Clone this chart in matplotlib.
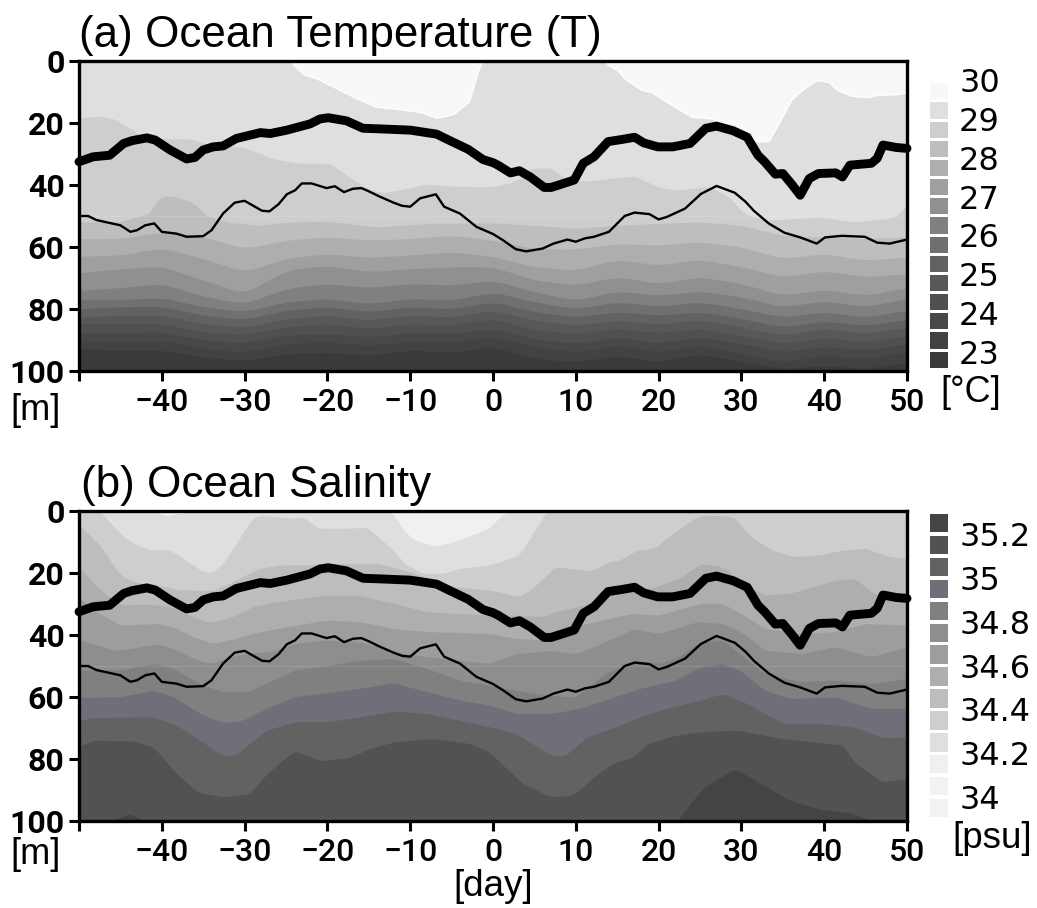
import matplotlib
matplotlib.use("Agg")
import matplotlib.pyplot as plt
import numpy as np

# ---------- shared lines ----------
thick_days = [-50,-48.3,-46.3,-44.6,-43.6,-41.8,-40.8,-39,-37,-36,-35,-33.8,-32.6,-31,-28.1,-26.9,-24.9,-22.1,-20.9,-19.9,-17.7,-15.7,-13.6,-10,-6.8,-5.2,-3,-1.2,0,0.6,2.1,3.2,4.5,6.2,7,8.3,9.8,10.9,12.2,13.9,15.6,17.1,18.2,19.9,21.7,23.8,25.7,27,29,30.7,32,32.8,34.1,35,36,37.1,38.2,39.3,41.4,42.2,43.1,45.7,46.4,47.1,48.7,50]
thick_depth = [32.5,30.9,30.4,26.6,25.7,24.8,25.5,28.7,31.6,31.1,28.7,27.7,27.4,25,23.1,23.4,22.3,20.3,18.7,18.3,19.3,21.7,21.9,22.3,23.6,25.7,28.5,31.8,32.8,33.6,36.1,35.4,37.4,40.8,40.8,39.7,38.4,33,30.9,26,25.3,24.6,26.4,27.7,27.7,26.6,21.7,21,22.5,24.6,30.4,32.5,36.5,36.3,39.5,43.3,37.9,36.3,36.1,37.4,33.6,33,31.4,27.1,27.9,28.2]
thin_days = [-50,-48.9,-47.9,-45,-43.8,-43,-42,-40.9,-40,-38.2,-37,-35,-34,-32.6,-31.2,-30,-27.9,-27,-25.9,-24.9,-23.9,-23.1,-21.9,-20.1,-19.1,-18,-16.9,-15.9,-15.1,-13.8,-12,-11,-10,-8.8,-6.9,-5.9,-4,-2,0,1.2,2.75,4,6,7.3,9,10,11.1,12.2,14,15.9,17.1,18.9,20,21,23.2,25.1,27,29.2,30.5,31.5,33.3,35.2,37.1,39.1,40.1,42.1,44.9,46.4,47.9,50]
thin_depth = [50,50,51.3,53,55.1,54.6,53,52.4,55.1,55.7,56.7,56.5,54.6,49.2,45.7,45.1,48.3,48.5,46.2,43,41.7,39.5,39.5,41,40.4,42.3,41.2,41,41.9,43.6,45.7,46.7,47,44.3,43,47,49.2,53.5,55.8,57.8,60.7,61.4,60.5,58.9,57.6,58.3,57.2,56.7,55.1,50,48.9,49.4,51.1,50.3,47.6,42.9,40.3,42.5,45.4,48.3,52.4,55.4,56.9,58.9,56.9,56.4,56.7,58.6,58.9,57.6]

# ---------- panel (a) temperature: depth of isotherm boundaries ----------
a_warm1_days = [-24.3,-24.1,-22.9,-21.3,-18.9,-16.5,-14.2,-12,-8.8,-6.8,-4.8,-2.9,-1.8,-1.3]
a_warm1_depth = [0,1.3,4.2,5.6,8.8,12,14.7,15.3,16.4,18.3,17.1,13.1,3,0]
a_warm2_days = [13.5,13.9,15,16.1,18,19.1,21.6,24,26.4,28.5,32,33.3,34.5,36,37.3,39.1,40.5,41.6,43.3,45.3,46.2,48.7,50]
a_warm2_depth = [0,1.3,2.9,6.1,9.4,10,14.2,18,18.5,20.7,26,25.7,20.1,12.6,9.4,6.1,6.7,9.4,11.2,11.7,11,10.7,10.2]

a_b1_days = [-50,-47.5,-45.9,-43.8,-42.2,-38.6,-36.2,-34.2,-30.2,-28.1,-26.9,-23.3,-19.7,-17.7,-15.3,-13.2,-10,-8,-4.8,-0.4,1.9,3.2,4.5,7,8.8,11.3,15,17.1,19.9,22.1,26,28.5,30.3,32.8,37.1,39.3,43.6,47.9,49.2,50]
a_b1_depth = [18.3,17.8,18.5,21.7,25,25,25.3,27.1,27.7,29.8,31.4,33,33,36.8,41.1,42.5,40.9,39.7,40.4,40.6,39.5,37.9,34.7,34.4,37.9,38.8,37.6,37.1,40.6,41.7,40.4,43.8,49.2,51.3,50.8,50.3,51.9,50.8,49.2,46]
a_b2_days = [-50,-45,-42.6,-41.7,-40.2,-38.6,-36.2,-34.6,-32.2,-28.5,-24.1,-20.1,-14,-8,-0.4,5,10,15,20,25,30,35,40,45,50]
a_b2_depth = [51.9,51.9,49.9,49.7,43.8,43.5,45.7,49.9,51.9,53,51.9,51.7,53.5,52.4,52.2,53,54,53,52.4,51.9,53,56.2,56.7,57.3,56.7]

a_grid_days = [-50,-45,-40,-35,-30,-25,-20,-15,-10,-5,0,5,10,15,20,25,30,35,40,45,50]
a_b3 = [57.3,57.3,55.1,56.7,60.5,57.8,56.7,57.8,57.3,56.2,57.8,60.5,60.7,58.9,59.4,58.3,60,63.7,62.1,64.3,63.2]
a_b4 = [63,62.6,60.3,63.7,68,63.7,62.1,63.4,62.6,61.6,63,66.4,67.5,64,65.9,64,66.4,69.6,67.7,69.6,68.6]
a_b5 = [68.4,67,66.2,70.7,75,67.5,65.9,68,67,66.4,66.4,70.7,72.3,69.6,71.8,69.6,71.8,75.6,73.7,75.6,73.1]
a_b6 = [74,73.1,71.8,75.9,78.3,73.4,71.8,73.1,71.8,72.3,70.7,74.5,77.2,74.2,75.6,74.2,76.1,79.3,77.4,79.3,76.6]
a_b7 = [77,77,76.3,79.3,80.9,77.7,76.6,78.3,76.6,77.2,74.5,77.7,79.9,77.7,79.1,77.7,79.9,82.6,80.9,82.6,80.4]
a_b8 = [79.9,79.3,79.1,82,83.4,80.4,79.3,80.9,79.3,79.9,77.7,80.9,82.6,80.9,82,80.9,83.1,85.8,83.9,85.3,83.4]
a_b9 = [82.6,82,82,84.7,86,83.1,82,83.6,82,82.6,80.4,83.6,85.3,83.6,84.9,83.4,85.8,88.5,86.3,87.9,85.8]
a_b10 = [84.7,84.7,84.7,87.4,88.2,85.8,84.7,86.3,84.7,85.3,83.1,86.7,87.9,86.3,87.7,86.3,88.5,91.2,89.2,90.6,88.5]
a_b11 = [87.7,87.7,87.4,89.9,91,88.5,87.9,89,87.7,87.9,86.3,89.6,91.2,89,91,89,91.2,93.9,92,93.3,91.2]
a_b12 = [90.1,90.6,90.1,92.8,93.9,91.2,90.6,91.7,90.6,90.6,89,92.2,93.9,91.7,93.9,91.7,94.4,97.1,94.9,96,93.9]
a_b13 = [92.8,93.3,93.3,95.5,96.6,94.4,93.9,95,93.3,93.9,92.2,96,97.1,95,97.1,94.4,97.1,99.2,98.2,99.2,97.1]

a_colors = ['#f8f8f8','#dfdfdf','#cecece','#bebebe','#aeaeae','#9f9f9f','#909090','#808080','#707070','#626262','#585858','#505050','#484848','#424242','#3a3a3a']
a_cb_top = [30,29.5,29,28.5,28,27.5,27,26.5,26,25.5,25,24.5,24,23.5,23]
a_cb_ticks = [30,29,28,27,26,25,24,23]

# ---------- panel (b) salinity: depth of isohaline boundaries ----------
b_p0_days = [-41,-39.5,-36]
b_p0_depth = [0,1.5,0]
b_p1_days = [-12.5,-12,-10.8,-9.6,-7,-5.4,-4,-2,-0.4,1,2]
b_p1_depth = [0,1.3,6.1,9.2,11.3,10.4,9.1,7.2,5.3,1.5,0]

b_b1_days = [-50,-47.5,-47.1,-45,-43.8,-41.4,-39,-37.4,-35,-34,-32.6,-31,-29.1,-28.1,-24,-23,-21.1,-17.3,-15.3,-14.1,-12.1,-10.5,-8.4,-6,-4,-0.4,1.5,3.2,4.7,6.2,6.6,50]
b_b1_depth = [0,0,1.3,7.2,9.9,12.6,12.6,15.3,19.6,19.9,16.9,10.4,2.4,1.3,2.4,1.8,5.6,5.6,5.1,7.7,12.6,17.4,20.1,20.1,18.5,17.4,15.8,14.2,7.7,1.3,0,0]
b_b2_days = [-50,-47.5,-45,-43,-40.6,-38.2,-36.2,-33.8,-31.4,-29.1,-28.1,-25.7,-21.7,-18,-14,-12.1,-8.8,-4.8,-0.4,3.2,4.9,7.5,9.2,11.8,13.9,15.2,17.4,19.5,21.7,24.7,26,29,31.1,33.7,36.3,39.3,42.3,44.9,47.9,50]
b_b2_depth = [4.5,11,20.7,23.1,23.9,25.3,25.5,25.7,22.8,19.6,18.5,17.4,17.4,16.9,16.9,18,20.7,24.4,25.5,27.7,24.6,18,18.5,19.4,16.4,16,12.6,12,7.2,1.8,1.3,1.8,8.3,12.6,14.7,14.2,12.6,12,14.7,15.3]
b_b3_days = [-50,-48.3,-46.7,-44.8,-42.2,-40.2,-39,-36.2,-34.2,-31.4,-28.9,-26.1,-20.1,-16.1,-12,-8,-0.4,2.8,6.2,7.5,10.9,13.9,19.1,22.5,25.1,27.7,30.3,32.8,35.8,41.4,43.6,46.6,50]
b_b3_depth = [18,23.3,27.1,30.4,30,30.4,30.9,34.1,36,34.1,30.7,29.3,27.1,27.4,29.8,32.5,33.6,33.6,34.1,32.5,30.4,27.1,25,21.7,16.9,18,23.4,27.1,26.6,22.3,21.7,27.7,27.7]
b_b4_days = [-50,-47.9,-45,-40.6,-38.6,-36.2,-33.8,-31,-29.1,-26.1,-20.1,-16.1,-12,-8,-0.4,2.8,6.2,8.3,11.3,16.9,19.9,25.1,27.7,30.3,32.8,37.1,41.4,44.9,50]
b_b4_depth = [27.7,32.5,36.8,36.3,37.4,40.6,42.7,41.1,39.5,37.9,35.2,35.7,37.9,38.9,39.5,41.1,41.6,38.9,36.3,33,33.6,29.8,29.8,33.6,37.9,39.5,38.9,36.3,36.8]
b_b5_days = [-50,-47.9,-45.4,-40.6,-38.6,-36.2,-34.2,-31,-26.1,-24,-20.1,-16.1,-12,-8,-0.4,2.8,7,10,12.6,17,20,24.7,27.7,30.3,32.8,37.1,41.4,45.7,50]
b_b5_depth = [41.6,43.2,45.1,42.9,44.3,47.5,49.2,46.5,44.9,42.7,41.6,42.2,45.4,47,49.2,46,45,46,43.3,38,39.5,35.7,36.3,39.5,44.9,46,43.8,47,43.8]
b_b6_days = [-50,-45,-41,-38.6,-35,-32.6,-29.7,-27,-24,-20.1,-16.1,-12,-8,-4,-0.4,1.5,6.2,10,13.5,17,20,22.5,24.7,27.7,30.3,32.8,37.1,41.4,45.7,50]
b_b6_depth = [51.3,51.3,49.2,50.8,56.2,58.3,58.3,55.1,51.3,49.9,48.1,47.6,50.8,54.6,56.2,57.3,59.4,60,52.4,48.1,49.2,47,42.7,41.6,47,52.4,55.1,54.6,55.7,54]
b_b7_days = [-50,-45,-41,-38.6,-35.4,-32.6,-30.2,-27,-24,-20.1,-16.1,-12,-8,-4,-0.4,2.8,7,10.5,13.5,17.8,22,25.1,27.7,29.8,32.8,35.8,41.4,45.7,50]
b_b7_depth = [60.1,59.9,57.8,59.9,65.3,68.3,67.5,63.2,59.9,58.6,57.2,55.4,58.3,61,62.6,65.3,65.3,63.7,61,57.2,54.6,50.3,49.2,51.3,57.8,60.5,60,63.7,63.7]
b_b8_days = [-50,-48.3,-41,-38.2,-35.4,-32.6,-31,-27.3,-24,-20.1,-16.1,-12,-8,-4,-0.4,2.8,7,8.8,11.3,14.8,17.8,20.8,25.1,27.7,30.7,35,39.3,43.6,47,50]
b_b8_depth = [67.5,66.6,66.4,69.1,73.9,79.1,78.4,70.7,68,68,66.4,64.5,65.3,67.5,69.6,71.8,78.8,78.8,72.9,69.6,66.4,63.7,61,58.9,62.1,68.5,68.5,69.6,73.1,72.9]
b_b9_days = [-50,-48.3,-43.4,-41,-38.6,-35.8,-32.6,-29.4,-27.3,-24,-20.9,-17.3,-14.9,-12,-7.2,-2.8,-0.4,0.6,3.6,7,9.6,12.2,14.4,17,18.7,22.1,25.1,29.4,35,42.3,43.6,47,50]
b_b9_depth = [75.9,74,74.2,76.1,83.6,90.6,92.2,91.2,84.7,77.3,80.6,79.5,76.6,74.5,73.4,75,77.7,80.4,88,92.2,91.7,85.8,81.4,79.3,75,72.3,71.2,70.7,73.4,75.5,81,87.4,86.3]
b_b10_days = [-50,-46,-44,-42,22.3,23.8,25.5,29.2,32.4,35.8,39.3,43.6,44.9,46,50]
b_b10_depth = [100,100,97.6,100,100,94.4,89,83.1,87.9,93.3,96,97.6,99.2,100,100]

b_colors = ['#444444','#525252','#626262','#6f6f7a','#808080','#8e8e8e','#9d9d9d','#aeaeae','#bdbdbd','#cecece','#dfdfdf','#f0f0f0','#f2f2f2','#f2f2f2']
b_cb_top = [35.3,35.2,35.1,35.0,34.9,34.8,34.7,34.6,34.5,34.4,34.3,34.2,34.1,34.0]
b_cb_ticks = [35.2,35,34.8,34.6,34.4,34.2,34]
b_cb_labels = ['35.2','35','34.8','34.6','34.4','34.2','34']

x_ticks = [-50,-40,-30,-20,-10,0,10,20,30,40,50]
x_labels = ['','−40','−30','−20','−10','0','10','20','30','40','50']
y_ticks = [0,20,40,60,80,100]

W, H = 1037, 908
TICK_FS = 23
TICK_FONT = 'Roboto'
SANS = 'Liberation Sans'
fig = plt.figure(figsize=(W/100, H/100), dpi=100)
fig.patch.set_facecolor('white')

def box(x0, y0, x1, y1):
    return fig.add_axes([x0/W, 1-y1/H, (x1-x0)/W, (y1-y0)/H])

def style(ax):
    ax.set_xlim(-50, 50)
    ax.set_ylim(100, 0)
    ax.set_xticks(x_ticks)
    ax.set_xticklabels(x_labels, fontsize=TICK_FS, family=TICK_FONT, fontweight='medium')
    ax.set_yticks(y_ticks)
    ax.set_yticklabels([str(v) for v in y_ticks], fontsize=TICK_FS, family=TICK_FONT, fontweight='bold')
    ax.tick_params(axis='both', length=7.5, width=2.2, direction='out', pad=3)
    ax.tick_params(axis='x', pad=5)
    for s in ax.spines.values():
        s.set_linewidth(2.4)
        s.set_zorder(10)

def lines(ax):
    ax.axhline(50, color='white', alpha=0.12, lw=0.8, zorder=4)
    ax.plot(thin_days, thin_depth, color='black', lw=1.7, zorder=5)
    ax.plot(thick_days, thick_depth, color='black', lw=6.4, solid_capstyle='round',
            solid_joinstyle='round', clip_on=False, zorder=6)

def soften(d, v, window):
    # draw the read-off boundary with rounded corners, as the contouring does
    xx = np.linspace(-50, 50, 801)
    yy = np.interp(xx, d, v)
    n = int(window / (xx[1] - xx[0])) | 1
    pad = n // 2
    yy = np.convolve(np.pad(yy, pad, mode='edge'), np.ones(n) / n, mode='valid')
    return xx, yy

def below(ax, d, v, c, z, window=1.2):
    xx, yy = soften(d, v, window)
    ax.fill_between(xx, yy, 100, color=c, lw=0, zorder=z)

def colorbar(rect, tops, step, colors, ticks, labels, label_rect=None, frac=0.84):
    cb = box(*rect)
    cb.barh([t-step/2 for t in tops], [1]*len(tops), height=step*frac, color=colors, lw=0)
    cb.set_xlim(0, 1)
    cb.set_ylim(tops[-1]-step, tops[0])
    cb.set_xticks([])
    cb.set_yticks([])
    for s in cb.spines.values():
        s.set_visible(False)
    lb = box(*(label_rect or rect))
    lb.patch.set_alpha(0)
    lb.set_xlim(0, 1)
    lb.set_ylim(tops[-1]-step, tops[0])
    lb.set_xticks([])
    lb.set_yticks(ticks)
    lb.set_yticklabels(labels, fontsize=23, family='DejaVu Sans')
    lb.yaxis.tick_right()
    lb.tick_params(axis='y', length=0, pad=8)
    for s in lb.spines.values():
        s.set_visible(False)

# panel (a)
ax = box(79, 61, 907, 371)
ax.set_facecolor(a_colors[1])
below(ax, a_b1_days, a_b1_depth, a_colors[2], 1)
below(ax, a_b2_days, a_b2_depth, a_colors[3], 1)
for i, b in enumerate([a_b3,a_b4,a_b5,a_b6,a_b7,a_b8,a_b9,a_b10,a_b11,a_b12,a_b13]):
    below(ax, a_grid_days, b, a_colors[4+i], 1, window=3.0)
ax.fill_between(a_warm1_days, 0, a_warm1_depth, facecolor=a_colors[0], edgecolor='white', lw=1, zorder=2)
ax.fill_between(a_warm2_days, 0, a_warm2_depth, facecolor=a_colors[0], edgecolor='white', lw=1, zorder=2)
lines(ax)
style(ax)
fig.text(79/W, 1-36/H, '(a) Ocean Temperature (T)', fontsize=31.7, family=SANS, va='center', ha='left')
fig.text(10/W, 1-410/H, '[m]', fontsize=26, family=SANS, va='center', ha='left')
colorbar((930, 81.7, 948, 369.3), a_cb_top, 0.5, a_colors, a_cb_ticks, [str(t) for t in a_cb_ticks],
         label_rect=(930, 80, 948, 371.4))
fig.text(971/W, 1-392/H, '[°C]', fontsize=26, family=SANS, va='center', ha='center')

# panel (b)
ax = box(79, 511, 907, 821)
ax.set_facecolor(b_colors[10])
ax.fill_between(b_p0_days, 0, b_p0_depth, color=b_colors[11], lw=0, zorder=2)
ax.fill_between(b_p1_days, 0, b_p1_depth, color=b_colors[11], lw=0, zorder=2)
pairs = [(b_b1_days,b_b1_depth),(b_b2_days,b_b2_depth),(b_b3_days,b_b3_depth),(b_b4_days,b_b4_depth),
         (b_b5_days,b_b5_depth),(b_b6_days,b_b6_depth),(b_b7_days,b_b7_depth),(b_b8_days,b_b8_depth),
         (b_b9_days,b_b9_depth),(b_b10_days,b_b10_depth)]
for i, (d, v) in enumerate(pairs):
    below(ax, d, v, b_colors[9-i], 3)
lines(ax)
style(ax)
fig.text(81/W, 1-485/H, '(b) Ocean Salinity', fontsize=31.7, family=SANS, va='center', ha='left')
fig.text(10/W, 1-855/H, '[m]', fontsize=26, family=SANS, va='center', ha='left')
fig.text(493/W, 1-886/H, '[day]', fontsize=26.5, family=SANS, va='center', ha='center')
colorbar((930, 512.3, 948, 819), b_cb_top, 0.1, b_colors, b_cb_ticks, b_cb_labels)
fig.text(992/W, 1-838/H, '[psu]', fontsize=26.5, family=SANS, va='center', ha='center')

fig.savefig('out.png', dpi=100)
